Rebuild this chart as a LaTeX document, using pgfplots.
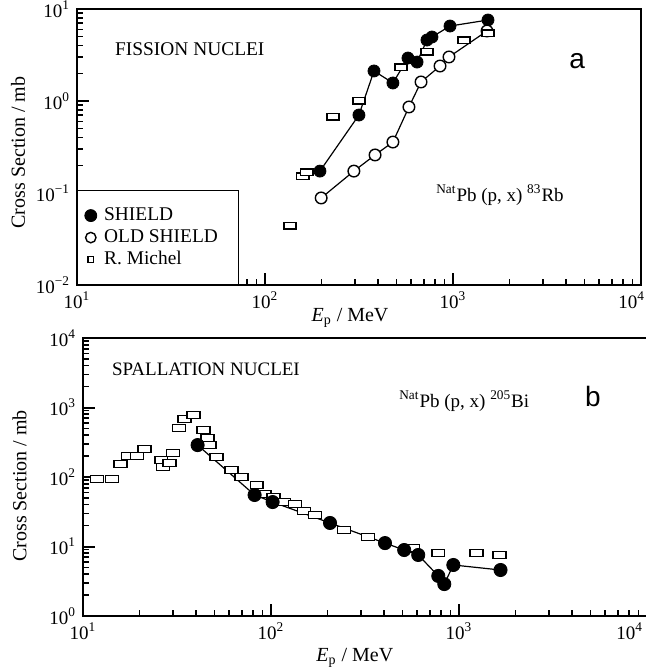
\documentclass[border=0pt]{standalone}
\usepackage{fontspec}
\setmainfont{Liberation Serif}
\newfontfamily\sansb{Liberation Sans}
\usepackage{pgfplots}
\usepackage{pgfplotstable}
\pgfplotsset{compat=1.18}

% panel a: natPb(p,x)83Rb
\pgfplotstableread{
E s
196 0.173
316 0.704
380 2.12
479 1.57
576 2.93
644 2.65
727 4.60
773 4.96
964 6.53
1535 7.59
}\shieldA
\pgfplotstableread{
E s
199 0.0883
297 0.173
385 0.259
479 0.358
583 0.861
676 1.61
853 2.40
952 3.01
1517 5.77
}\oldA
\pgfplotstableread{
E s
136 0.0438
159 0.153
167 0.169
230 0.670
316 1.00
529 2.34
727 3.41
1145 4.60
1535 5.48
}\michelA

% panel b: natPb(p,x)205Bi
\pgfplotstableread{
E s
40.7 288
81.8 55.1
102 43.6
206 21.8
404 11.2
511 8.9
607 7.55
776 3.77
835 2.88
933 5.42
1663 4.59
}\shieldB
\pgfplotstableread{
E s
11.9 93.5
14.3 93.5
15.8 154
17.4 200
19.4 200
21.2 253
26.1 176
26.7 139
28.8 159
30.2 221
32.5 507
34.6 683
38.7 780
43.7 475
45.9 364
47.1 289
51.3 194
61.7 126
69.8 100
83.9 76.7
92.5 56.9
103 51.5
117 43.7
134 40.9
150 32.4
171 28.4
244 17.3
328 13.7
571 9.5
776 8.06
1239 8.06
1643 7.55
}\michelB

\begin{document}
\begin{tikzpicture}
\useasboundingbox (0,0) rectangle (322.5pt,334pt);

\begin{axis}[at={(38.5pt,191.5pt)}, anchor=south west,
  scale only axis, xmode=log, ymode=log, log basis x=10, log basis y=10,
  width=282pt, height=138pt, xmin=10, xmax=10000, ymin=0.01, ymax=10,
  xtick pos=bottom, ytick pos=left, tick align=inside,
  axis line style={line width=0.9pt},
  major tick length=6pt, minor tick length=3pt,
  every major tick/.append style={black, line width=1pt},
  every minor tick/.append style={black, line width=0.8pt},
  tick label style={font=\fontsize{9.5}{11}\selectfont},
  label style={font=\fontsize{10}{12}\selectfont},
  xticklabel={\pgfmathtruncatemacro\e{round(\tick)}\ifnum\e=4 \makebox[0pt][r]{10\textsuperscript{4}\hspace*{-2pt}}\else 10\textsuperscript{\e}\fi},
  yticklabel={\pgfmathtruncatemacro\e{round(\tick)}\ifnum\e<0 10\textsuperscript{−\number-\e}\else 10\textsuperscript{\e}\fi},
  xlabel={\textit{E}\textsubscript{p} / MeV},
  ylabel={Cross Section / mb},
  xlabel style={at={(axis description cs:0.484,0)}, anchor=center, yshift=-16.5pt},
  ylabel style={at={(axis description cs:-0.1046,0.48)}, anchor=center},
  legend style={at={(0,0)}, anchor=south west, draw=black, fill=white,
    inner xsep=3.5pt, inner ysep=7pt, row sep=0pt, column sep=2.5pt,
    font=\fontsize{9.7}{11}\selectfont, cells={anchor=west},
    nodes={inner sep=1pt, text height=7pt, text depth=2pt}},
]
\addplot[black, line width=0.6pt, no marks, forget plot] table {\shieldA};
\addplot[black, line width=0.6pt, no marks, forget plot] table {\oldA};
\addplot[only marks, mark=*, mark size=3pt, mark options={fill=black},
  legend image code/.code={\fill[black] (0pt,0pt) circle (3pt);}] table {\shieldA};
\addlegendentry{SHIELD}
\addplot[only marks, mark=*, mark size=2.9pt, mark options={fill=white, draw=black, line width=0.7pt},
  legend image code/.code={\draw[black, fill=white, line width=0.7pt] (0pt,0pt) circle (2.6pt);}] table {\oldA};
\addlegendentry{OLD SHIELD\hspace*{6pt}}
\addplot[only marks, mark=square*, mark size=1.6pt, mark options={fill=white, draw=black, xscale=1.9, line width=0.7pt},
  legend image code/.code={\draw[black, fill=white, line width=0.6pt] (-1.4pt,-1.4pt) rectangle (1.4pt,1.4pt);}] table {\michelA};
\addlegendentry{R. Michel}
\node[font=\fontsize{9.7}{11}\selectfont] at (axis description cs:0.200,0.855) {FISSION NUCLEI};
\node[font=\sansb\fontsize{14}{16}\selectfont] at (axis description cs:0.887,0.812) {a};
\node[font=\fontsize{9.5}{11}\selectfont] at (axis description cs:0.75,0.326) {\textsuperscript{Nat}Pb (p, x) \textsuperscript{83}Rb};
\end{axis}

\begin{axis}[at={(41.5pt,26pt)}, anchor=south west,
  scale only axis, xmode=log, ymode=log, log basis x=10, log basis y=10,
  width=282pt, height=139pt, xmin=10, xmax=10000, ymin=1, ymax=10000,
  xtick pos=bottom, ytick pos=left, tick align=inside,
  axis line style={line width=0.9pt},
  major tick length=6pt, minor tick length=3pt,
  every major tick/.append style={black, line width=1pt},
  every minor tick/.append style={black, line width=0.8pt},
  tick label style={font=\fontsize{9.5}{11}\selectfont},
  label style={font=\fontsize{10}{12}\selectfont},
  xticklabel={\pgfmathtruncatemacro\e{round(\tick)}\ifnum\e=4 \makebox[0pt][r]{10\textsuperscript{4}\hspace*{2pt}}\else 10\textsuperscript{\e}\fi},
  yticklabel={\pgfmathtruncatemacro\e{round(\tick)}10\textsuperscript{\e}},
  xlabel={\textit{E}\textsubscript{p} / MeV},
  ylabel={Cross Section / mb},
  xlabel style={at={(axis description cs:0.482,0)}, anchor=center, yshift=-21pt},
  ylabel style={at={(axis description cs:-0.1126,0.468)}, anchor=center},
]
\addplot[black, line width=0.6pt, no marks] table {\shieldB};
\addplot[only marks, mark=square*, mark size=1.7pt, mark options={fill=white, draw=black, xscale=1.9, line width=0.7pt}] table {\michelB};
\addplot[only marks, mark=*, mark size=3.3pt, mark options={fill=black}] table {\shieldB};
\node[font=\fontsize{9.5}{11}\selectfont] at (axis description cs:0.218,0.888) {SPALLATION NUCLEI};
\node[font=\fontsize{9.5}{11}\selectfont] at (axis description cs:0.676,0.773) {\textsuperscript{Nat}Pb (p, x) \textsuperscript{205}Bi};
\node[font=\sansb\fontsize{14}{16}\selectfont] at (axis description cs:0.904,0.788) {b};
\end{axis}
\end{tikzpicture}
\end{document}
